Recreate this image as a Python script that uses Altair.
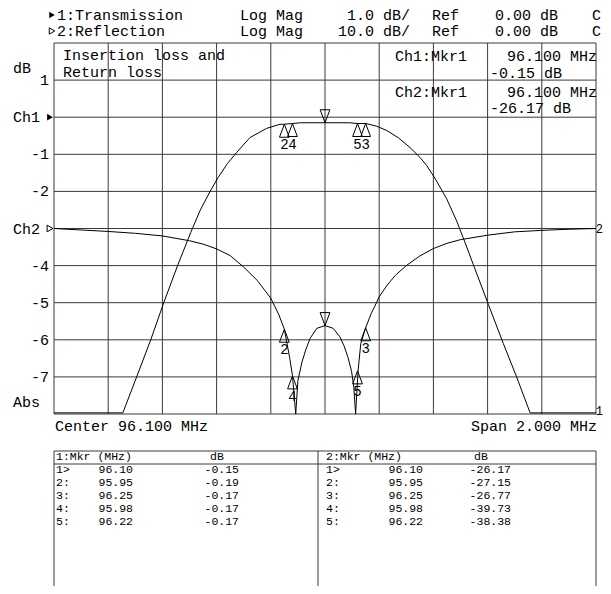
import altair as alt
import pandas as pd

FONT = "Liberation Mono"
FS = 15
OX, OY = 8, 8  # page margin

# ---------------- data ----------------
# Ch1: Transmission, Log Mag 1 dB/div, ref 0 dB
ch1_freq = [95.10, 95.354, 95.405, 95.457, 95.505, 95.556, 95.605, 95.64, 95.676, 95.706,
            95.74, 95.774, 95.823, 95.885, 95.934, 95.95, 95.98, 96.01, 96.10, 96.19,
            96.22, 96.25, 96.29, 96.328, 96.37, 96.414, 96.45, 96.475, 96.506, 96.549,
            96.586, 96.61, 96.659, 96.703, 96.758, 96.807, 96.857, 97.10]
ch1_db = [-7.97, -7.97, -7.0, -6.0, -5.0, -4.0, -3.1, -2.5, -2.0, -1.62,
          -1.25, -0.95, -0.55, -0.30, -0.19, -0.19, -0.17, -0.15, -0.15, -0.15,
          -0.17, -0.17, -0.24, -0.36, -0.55, -0.82, -1.08, -1.30, -1.65, -2.2,
          -2.8, -3.25, -4.2, -5.05, -6.1, -7.0, -7.97, -7.97]

# Ch2: Reflection, Log Mag 10 dB/div, ref 0 dB (drawn at the "Ch2" line)
ch2_freq = [95.10, 95.20, 95.30, 95.40, 95.50, 95.60, 95.65, 95.70, 95.75, 95.80,
            95.85, 95.90, 95.93, 95.95, 95.97, 95.98, 95.992, 96.00, 96.015, 96.03,
            96.045, 96.07, 96.10, 96.13, 96.155, 96.17, 96.185, 96.198, 96.206, 96.213,
            96.222, 96.232, 96.25, 96.27, 96.29, 96.30, 96.33, 96.36, 96.40, 96.45,
            96.50, 96.55, 96.60, 96.70, 96.80, 96.90, 97.00, 97.10]
ch2_db = [0.0, -0.4, -0.8, -1.3, -2.0, -3.3, -4.2, -5.5, -7.3, -10.4,
          -14.0, -18.8, -23.3, -27.15, -35.0, -39.73, -50.0, -41.0, -36.0, -32.5,
          -29.6, -26.9, -26.17, -26.9, -29.2, -31.6, -34.8, -38.5, -42.5, -50.0,
          -38.38, -31.0, -26.77, -23.0, -20.0, -18.4, -15.2, -12.6, -10.0, -7.4,
          -5.4, -4.0, -3.0, -1.8, -0.9, -0.5, -0.2, 0.0]

mkr_id = ["1", "2", "3", "4", "5"]
mkr_freq = [96.10, 95.95, 96.25, 95.98, 96.22]
mkr_ch1 = [-0.15, -0.19, -0.17, -0.17, -0.17]
mkr_ch2 = [-26.17, -27.15, -26.77, -39.73, -38.38]

x_grid = [95.1, 95.3, 95.5, 95.7, 95.9, 96.1, 96.3, 96.5, 96.7, 96.9, 97.1]
y_grid = [2, 1, 0, -1, -2, -3, -4, -5, -6, -7, -8]
y_num_labels = ["1", "-1", "-2", "-4", "-5", "-6", "-7"]
y_num_values = [1, -1, -2, -4, -5, -6, -7]
y_ch_labels = ["Ch1", "Ch2"]
y_ch_values = [0, -3]

# ---------------- scales ----------------
XL, XR, YT, YB = 54 - OX, 596 - OX, 43 - OY, 414 - OY
xs = alt.Scale(domain=[95.1, 97.1], range=[XL, XR], nice=False, zero=False)
ys = alt.Scale(domain=[-8, 2], range=[YB, YT], nice=False, zero=False)
X = lambda f: alt.X(f, scale=xs, axis=None)
Y = lambda f: alt.Y(f, scale=ys, axis=None)

GRID = "#3a3a3a"

layers = []

# grid
layers.append(alt.Chart(pd.DataFrame({"f": x_grid})).mark_rule(color=GRID, strokeWidth=1).encode(
    x=X("f:Q"), y=alt.value(YT), y2=alt.value(YB)))
layers.append(alt.Chart(pd.DataFrame({"v": y_grid})).mark_rule(color=GRID, strokeWidth=1).encode(
    y=Y("v:Q"), x=alt.value(XL), x2=alt.value(XR)))

# traces
df1 = pd.DataFrame({"f": ch1_freq, "db": ch1_db})
df2 = pd.DataFrame({"f": ch2_freq, "db": ch2_db})
layers.append(alt.Chart(df1).mark_line(color="black", strokeWidth=1).encode(
    x=X("f:Q"), y=Y("db:Q"), order="f:Q"))
layers.append(alt.Chart(df2).transform_calculate(v="-3 + datum.db / 10").mark_line(
    color="black", strokeWidth=1).encode(x=X("f:Q"), y=Y("v:Q"), order="f:Q"))

# markers
mk = pd.DataFrame({"id": mkr_id, "f": mkr_freq, "c1": mkr_ch1, "c2": mkr_ch2})
UP = "M0,0L-0.75,2L0.75,2Z"
DOWN = "M0,0L-0.75,-2L0.75,-2Z"
for fld, calc in [("c1", "datum.c1"), ("c2", "-3 + datum.c2 / 10")]:
    base = alt.Chart(mk).transform_calculate(v=calc)
    layers.append(base.transform_filter("datum.id != '1'").mark_point(
        shape=UP, size=169, filled=False, stroke="black", strokeWidth=1, opacity=1).encode(
        x=X("f:Q"), y=Y("v:Q")))
    layers.append(base.transform_filter("datum.id == '1'").mark_point(
        shape=DOWN, size=169, filled=False, stroke="black", strokeWidth=1, opacity=1).encode(
        x=X("f:Q"), y=Y("v:Q")))
    layers.append(base.transform_filter("datum.id != '1'").mark_text(
        font=FONT, fontSize=14, dy=21, color="black").encode(
        x=X("f:Q"), y=Y("v:Q"), text="id:N"))

# left scale labels
layers.append(alt.Chart(pd.DataFrame({"v": y_num_values, "t": y_num_labels})).mark_text(
    font=FONT, fontSize=FS, align="right", baseline="middle", color="black").encode(
    y=Y("v:Q"), x=alt.value(49 - OX), text="t:N"))
layers.append(alt.Chart(pd.DataFrame({"v": y_ch_values, "t": y_ch_labels})).mark_text(
    font=FONT, fontSize=FS, align="left", baseline="middle", color="black").encode(
    y=Y("v:Q"), x=alt.value(13 - OX), text="t:N"))
ref_df = pd.DataFrame({"v": y_ch_values, "k": ["fill", "hollow"]})
layers.append(alt.Chart(ref_df).transform_filter("datum.k == 'fill'").mark_point(
    shape="triangle-right", size=45, filled=True, color="black", opacity=1).encode(
    y=Y("v:Q"), x=alt.value(50 - OX)))
layers.append(alt.Chart(ref_df).transform_filter("datum.k == 'hollow'").mark_point(
    shape="triangle-right", size=45, filled=False, stroke="black", strokeWidth=1, opacity=1).encode(
    y=Y("v:Q"), x=alt.value(50 - OX)))


def texts(rows, align="left", size=FS):
    df = pd.DataFrame(rows, columns=["px", "py", "t"])
    df["px"] = df["px"] - OX
    df["py"] = df["py"] - OY
    return alt.Chart(df).mark_text(align=align, baseline="middle", font=FONT,
                                   fontSize=size, color="black").encode(
        x=alt.X("px:Q", scale=None), y=alt.Y("py:Q", scale=None), text="t:N")


# header / annotations (left aligned)
left_txt = [
    (57, 15, "1:Transmission"), (57, 31, "2:Reflection"),
    (240, 15, "Log Mag"), (240, 31, "Log Mag"),
    (432, 15, "Ref"), (432, 31, "Ref"),
    (495, 15, "0.00 dB"), (495, 31, "0.00 dB"),
    (592, 15, "C"), (592, 31, "C"),
    (13, 68, "dB"), (13, 402, "Abs"),
    (63, 55, "Insertion loss and"), (63, 72, "Return loss"),
    (395, 56, "Ch1:Mkr1"), (395, 92, "Ch2:Mkr1"),
    (490, 73, "-0.15 dB"), (490, 108, "-26.17 dB"),
    (55, 426, "Center 96.100 MHz"),
]
layers.append(texts(left_txt, "left"))
right_txt = [
    (410, 15, "1.0 dB/"), (410, 31, "10.0 dB/"),
    (597, 56, "96.100 MHz"), (597, 92, "96.100 MHz"),
    (597, 426, "Span 2.000 MHz"),
]
layers.append(texts(right_txt, "right"))
layers.append(texts([(603, 229, "2"), (603, 411, "1")], "right", size=12))

# small header arrows
hdr = pd.DataFrame({"px": [52 - OX, 52 - OX], "py": [15 - OY, 31 - OY], "k": ["fill", "hollow"]})
layers.append(alt.Chart(hdr).transform_filter("datum.k == 'fill'").mark_point(
    shape="triangle-right", size=40, filled=True, color="black", opacity=1).encode(
    x=alt.X("px:Q", scale=None), y=alt.Y("py:Q", scale=None)))
layers.append(alt.Chart(hdr).transform_filter("datum.k == 'hollow'").mark_point(
    shape="triangle-right", size=40, filled=False, stroke="black", strokeWidth=1, opacity=1).encode(
    x=alt.X("px:Q", scale=None), y=alt.Y("py:Q", scale=None)))

# ---------------- marker table ----------------
T_TOP, T_SEP, T_BOT = 451, 464, 594
T_L, T_M, T_R = 54, 318, 596
TFS = 11.5
row_y = [470, 483, 496, 509, 522]
tab_lines_h = pd.DataFrame({"x1": [T_L - OX] * 2, "x2": [T_R - OX] * 2, "y": [T_TOP - OY, T_SEP - OY]})
layers.append(alt.Chart(tab_lines_h).mark_rule(color=GRID, strokeWidth=1).encode(
    x=alt.X("x1:Q", scale=None), x2="x2:Q", y=alt.Y("y:Q", scale=None)))
tab_lines_v = pd.DataFrame({"x": [T_L - OX, T_M - OX, T_R - OX], "y1": [T_TOP - OY] * 3, "y2": [T_BOT - OY] * 3})
layers.append(alt.Chart(tab_lines_v).mark_rule(color=GRID, strokeWidth=1).encode(
    x=alt.X("x:Q", scale=None), y=alt.Y("y1:Q", scale=None), y2="y2:Q"))

tab_left = [(56, 457, "1:Mkr (MHz)"), (210, 457, "dB"), (326, 457, "2:Mkr (MHz)"), (474, 457, "dB")]
tab_right = []
for i, (mid, f, a, b) in enumerate(zip(mkr_id, mkr_freq, mkr_ch1, mkr_ch2)):
    tag = mid + (">" if mid == "1" else ":")
    tab_left += [(56, row_y[i], tag), (326, row_y[i], tag)]
    tab_right += [(133, row_y[i], f"{f:.2f}"), (239, row_y[i], f"{a:.2f}"),
                  (423, row_y[i], f"{f:.2f}"), (511, row_y[i], f"{b:.2f}")]
layers.append(texts(tab_left, "left", size=TFS))
layers.append(texts(tab_right, "right", size=TFS))

chart = alt.layer(*layers).properties(
    width=595, height=578, padding=0,
    autosize=alt.AutoSizeParams(type="none"),
).configure_view(stroke=None)

chart.save("out.html", embed_options={"renderer": "svg", "actions": False})
